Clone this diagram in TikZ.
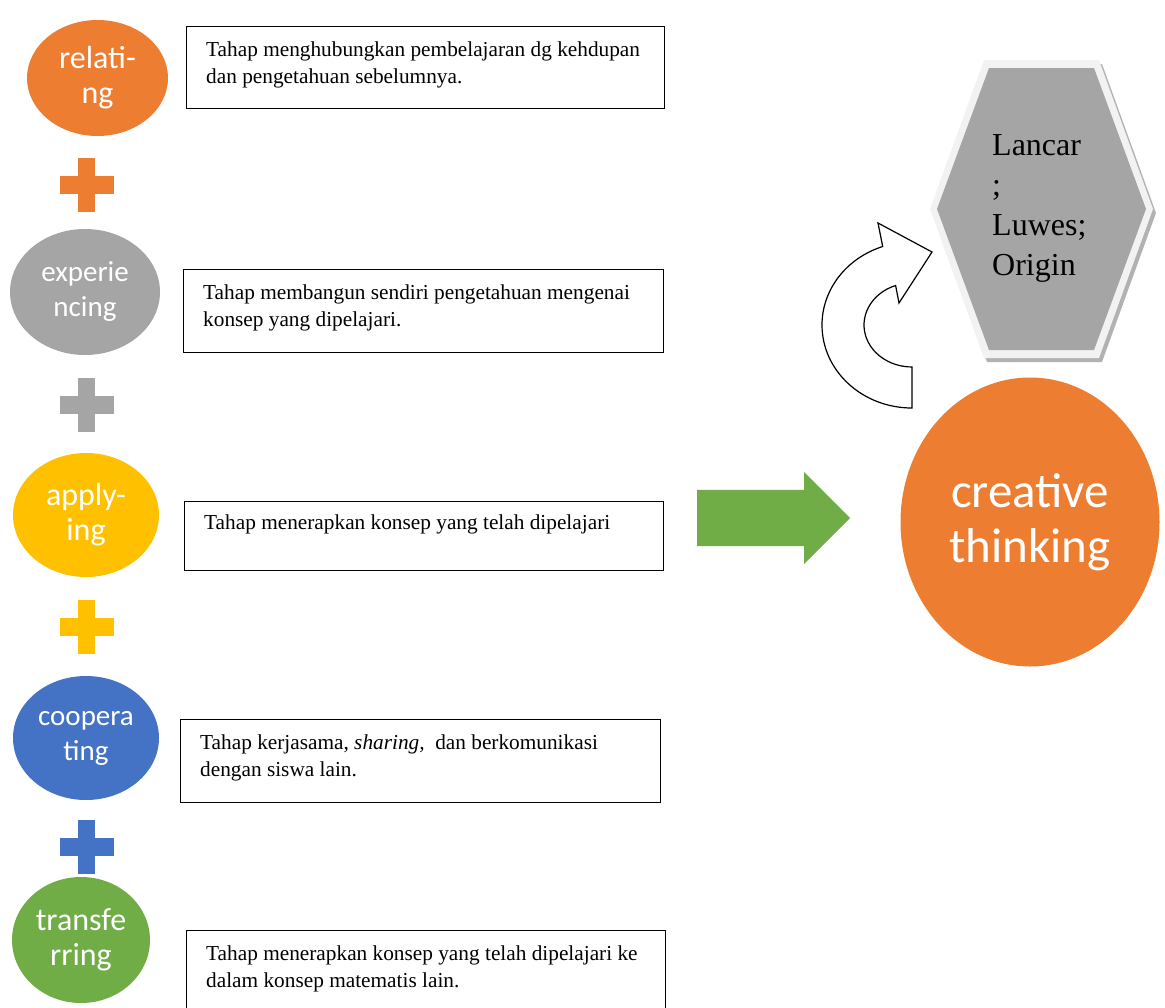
\documentclass[tikz,border=0pt]{standalone}
\usepackage{fontspec}
\setmainfont{Liberation Serif}
\newfontfamily\calibri{Carlito}
\usetikzlibrary{positioning,shapes.geometric,shapes.arrows}

\definecolor{orng}{HTML}{ED7D31}
\definecolor{gry}{HTML}{A5A5A5}
\definecolor{ylw}{HTML}{FFC000}
\definecolor{blu}{HTML}{4472C4}
\definecolor{grn}{HTML}{70AD47}

% plus sign between two stages: x, y, colour
\newcommand{\plussign}[3]{%
  \fill[#3] (#1,#2) ++(-27,-9) rectangle ++(54,18);
  \fill[#3] (#1,#2) ++(-8.5,-27) rectangle ++(17,54);
}

\begin{document}
\begin{tikzpicture}
 [
  x=1pt, y=-1pt,
  stage/.style={ellipse, fill=#1, inner sep=0pt, text=white, align=center,
                font=\calibri\fontsize{32}{35}\selectfont},
  small/.style={font=\calibri\fontsize{29}{35}\selectfont},
  desc/.style={draw=black, line width=1.2pt, anchor=north west, inner sep=0pt},
  note/.style={anchor=north west, inner sep=0pt, align=left,
               font=\fontsize{21.3}{27}\selectfont},
 ]
  \useasboundingbox (0,0) rectangle (1165,1007);

  % stages
  \node [stage=orng, minimum width=141pt, minimum height=116pt] (relating) at (97.5,78) {relati-\\ng};
  \node [stage=gry, small, minimum width=150pt, minimum height=126pt] (experiencing) at (85,292) {experie\\ncing};
  \node [stage=ylw, minimum width=146pt, minimum height=124pt] (applying) at (86,515) {apply-\\ing};
  \node [stage=blu, small, minimum width=146pt, minimum height=124pt] (cooperating) at (86,738) {coopera\\ting};
  \node [stage=grn, minimum width=138pt, minimum height=126pt] (transferring) at (81,940) {transfe\\rring};

  \plussign{86.5}{185}{orng}
  \plussign{86.5}{405}{gry}
  \plussign{86.5}{627}{ylw}
  \plussign{86.5}{847}{blu}

  % descriptions
  \node [desc, minimum width=478pt, minimum height=82pt] (box1) at (186,26) {};
  \node [note] (txt1) at ([xshift=20pt,yshift=-16pt]box1.north west)
        {Tahap menghubungkan pembelajaran dg kehdupan\\dan pengetahuan sebelumnya.};
  \node [desc, minimum width=480pt, minimum height=83pt] (box2) at (183,269) {};
  \node [note] (txt2) at ([xshift=20pt,yshift=-16pt]box2.north west)
        {Tahap membangun sendiri pengetahuan mengenai\\konsep yang dipelajari.};
  \node [desc, minimum width=479pt, minimum height=69pt] (box3) at (184,501) {};
  \node [note] (txt3) at ([xshift=20pt,yshift=-14pt]box3.north west)
        {Tahap menerapkan konsep yang telah dipelajari};
  \node [desc, minimum width=480pt, minimum height=83pt] (box4) at (180,719) {};
  \node [note] (txt4) at ([xshift=20pt,yshift=-16pt]box4.north west)
        {Tahap kerjasama, \textit{sharing,}~ dan berkomunikasi\\dengan siswa lain.};
  \node [desc, minimum width=479pt, minimum height=95pt] (box5) at (186,930) {};
  \node [note] (txt5) at ([xshift=20pt,yshift=-16pt]box5.north west)
        {Tahap menerapkan konsep yang telah dipelajari ke\\dalam konsep matematis lain.};

  % result
  \node [single arrow, fill=grn, minimum height=153pt, inner xsep=0pt, inner ysep=28pt,
         single arrow head extend=18pt, single arrow head indent=0pt,
         anchor=west] (go) at (697,518) {};
  \node [ellipse, fill=orng, minimum width=259pt, minimum height=289pt, inner sep=0pt,
         text=white, align=center, font=\calibri\fontsize{49}{55}\selectfont]
        (creative) at (1030,522) {creative\\thinking};

  % hexagon
  \fill[gray!60, shift={(3,4)}] (984,60) -- (1099,60) -- (1153,209) -- (1099,358) -- (984,358) -- (930,209) -- cycle;
  \fill[gray!10] (984,60) -- (1099,60) -- (1153,209) -- (1099,358) -- (984,358) -- (930,209) -- cycle;
  \fill[gry] (989,68) -- (1094,68) -- (1146,209) -- (1094,350) -- (989,350) -- (937,209) -- cycle;
  \node [anchor=west, align=left, inner sep=0pt, font=\fontsize{32}{40}\selectfont]
        (traits) at (992,208) {Lancar\\;\\Luwes;\\Origin};

  % circular arrow
  \draw[fill=white, line width=1.2pt, line join=miter]
    (912,408) arc[start angle=90, end angle=251, x radius=90, y radius=83]
    -- (878,223) -- (932,252) -- (899,303) -- (895.6,285.5)
    arc[start angle=250, end angle=90, x radius=48, y radius=42] -- cycle;
\end{tikzpicture}
\end{document}
